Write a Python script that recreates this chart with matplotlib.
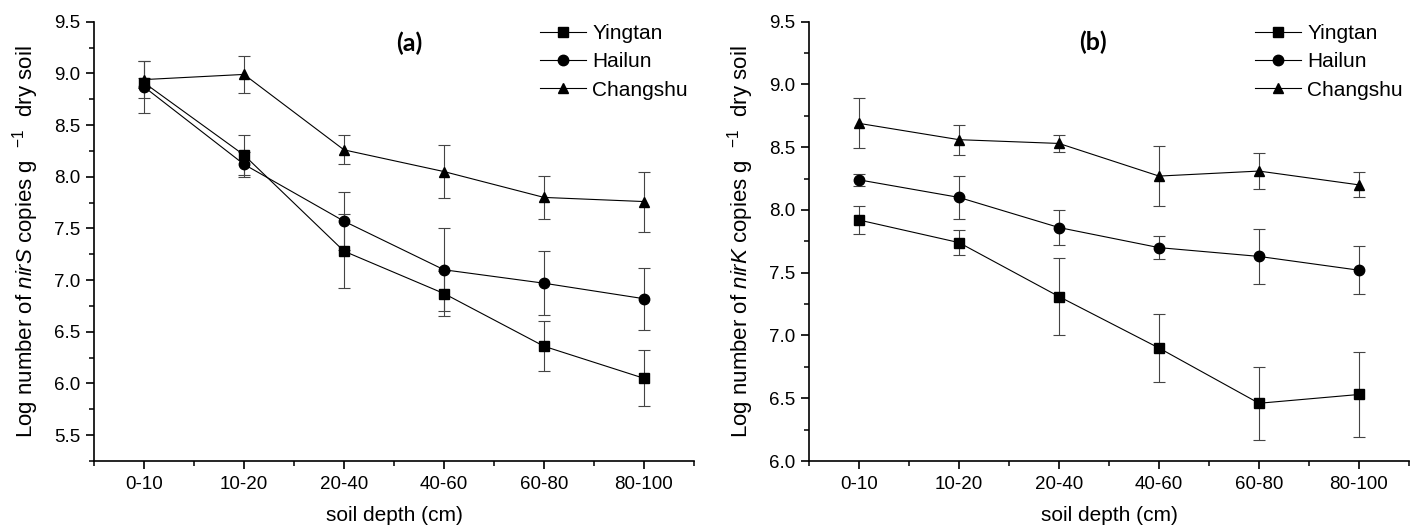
import numpy as np
import matplotlib.pyplot as plt
from matplotlib.ticker import MultipleLocator
from matplotlib.lines import Line2D

plt.rcParams['font.family'] = ['Liberation Sans', 'DejaVu Sans']
plt.rcParams['mathtext.fontset'] = 'custom'
plt.rcParams['mathtext.rm'] = 'Liberation Sans'
plt.rcParams['mathtext.it'] = 'Liberation Sans:italic'

depths = ['0-10', '10-20', '20-40', '40-60', '60-80', '80-100']
sites = ['Yingtan', 'Hailun', 'Changshu']
markers = ['s', 'o', '^']

# nirS gene copies (log), mean and SD
nirs_mean = {
    'Yingtan': [8.91, 8.21, 7.28, 6.87, 6.36, 6.05],
    'Hailun': [8.87, 8.12, 7.57, 7.10, 6.97, 6.82],
    'Changshu': [8.94, 8.99, 8.26, 8.05, 7.80, 7.76],
}
nirs_sd = {
    'Yingtan': [0.05, 0.19, 0.36, 0.22, 0.24, 0.27],
    'Hailun': [0.25, 0.12, 0.28, 0.40, 0.31, 0.30],
    'Changshu': [0.18, 0.18, 0.14, 0.26, 0.21, 0.29],
}

# nirK gene copies (log), mean and SD
nirk_mean = {
    'Yingtan': [7.92, 7.74, 7.31, 6.90, 6.46, 6.53],
    'Hailun': [8.24, 8.10, 7.86, 7.70, 7.63, 7.52],
    'Changshu': [8.69, 8.56, 8.53, 8.27, 8.31, 8.20],
}
nirk_sd = {
    'Yingtan': [0.11, 0.10, 0.31, 0.27, 0.29, 0.34],
    'Hailun': [0.05, 0.17, 0.14, 0.09, 0.22, 0.19],
    'Changshu': [0.20, 0.12, 0.07, 0.24, 0.14, 0.10],
}

W, H = 1426, 531
fig = plt.figure(figsize=(W / 100, H / 100), dpi=100)
# axes boxes in pixels: left, right; shared top/bottom
ax1 = fig.add_axes([94 / W, 70 / H, 600 / W, 439.3 / H])
ax2 = fig.add_axes([809 / W, 70 / H, 600 / W, 439.3 / H])

x = np.arange(len(depths))


def draw_panel(ax, mean, sd, ylim, gene, tag, tag_xy, leg_xy):
    for s, m in zip(sites, markers):
        ax.errorbar(x, mean[s], yerr=sd[s], color='black', ecolor='#444444',
                    elinewidth=0.8, capsize=4, capthick=0.8, lw=0.8,
                    marker=m, markersize=7.5, label=s)
    ax.set_xlim(-0.5, 5.5)
    ax.set_ylim(*ylim)
    ax.set_xticks(x)
    ax.set_xticklabels(depths)
    ax.xaxis.set_minor_locator(MultipleLocator(0.5))
    ax.yaxis.set_major_locator(MultipleLocator(0.5))
    ax.yaxis.set_minor_locator(MultipleLocator(0.25))
    ax.yaxis.set_major_formatter(plt.FormatStrFormatter('%.1f'))
    for sp in ['top', 'right']:
        ax.spines[sp].set_visible(False)
    for sp in ['left', 'bottom']:
        ax.spines[sp].set_linewidth(1.2)
    ax.tick_params(which='major', direction='out', length=6, width=1.2,
                   labelsize=13.5, pad=4)
    ax.tick_params(which='minor', direction='out', length=3.5, width=1.1)
    ax.tick_params(axis='x', which='major', pad=5)
    ax.set_xlabel('soil depth (cm)', fontsize=15, labelpad=9)
    ax.set_ylabel(r'Log number of $\mathit{' + gene + r'}$ copies g  $^{-1}$  dry soil',
                  fontsize=16, labelpad=9)
    fig.text(tag_xy[0] / W, 1 - tag_xy[1] / H, tag, ha='center', va='center',
             fontsize=18, fontweight='bold', family=['Lato', 'DejaVu Sans'])
    handles = [Line2D([], [], color='black', lw=0.8, marker=m, markersize=7.5)
               for m in markers]
    ax.legend(handles, sites, loc='upper left',
              bbox_to_anchor=(leg_xy[0] / W, 1 - leg_xy[1] / H),
              bbox_transform=fig.transFigure, frameon=False, fontsize=15,
              handlelength=2.2, handletextpad=0.3, labelspacing=0.45,
              borderaxespad=0, borderpad=0)


draw_panel(ax1, nirs_mean, nirs_sd, (5.25, 9.5), 'nirS', '(a)', (409, 43), (540, 24))
draw_panel(ax2, nirk_mean, nirk_sd, (6.0, 9.5), 'nirK', '(b)', (1093, 42), (1255, 24))

fig.savefig('out.png', dpi=100)
